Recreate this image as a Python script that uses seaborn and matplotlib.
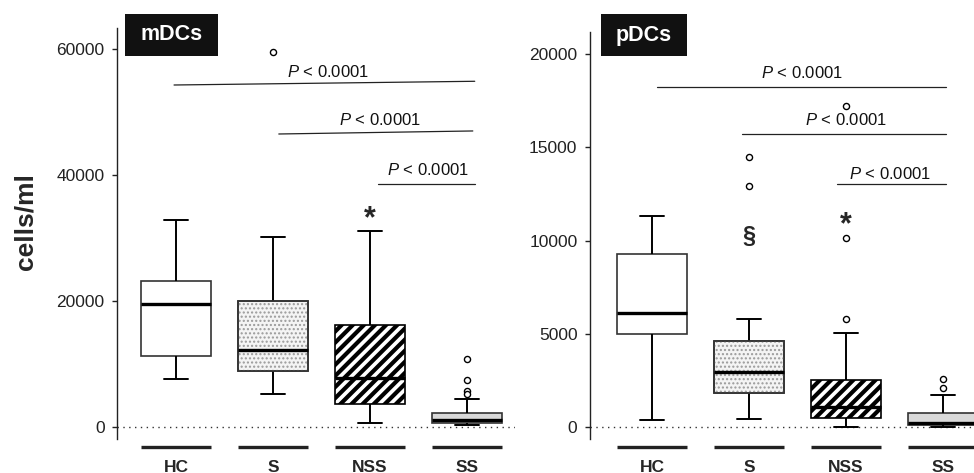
import numpy as np
import pandas as pd
import matplotlib
matplotlib.use("Agg")
import matplotlib.pyplot as plt
import matplotlib.transforms as mtransforms
from matplotlib.patches import PathPatch, Rectangle
import seaborn as sns

# ---------------- data ----------------
groups = ["HC", "S", "NSS", "SS"]

# mDCs (cells/ml): lower whisker, Q1, median, Q3, upper whisker per group
mdc_low = [7570, 5280, 630, 320]
mdc_q1 = [11310, 8830, 3650, 680]
mdc_med = [19560, 12170, 7720, 1110]
mdc_q3 = [23160, 20030, 16130, 2220]
mdc_high = [32830, 30180, 31090, 4390]
mdc_out_group = ["S", "SS", "SS", "SS", "SS"]
mdc_out_value = [59520, 10740, 7450, 5650, 5300]
mdc_yticks = [0, 20000, 40000, 60000]

# pDCs (cells/ml)
pdc_low = [380, 410, 0, 0]
pdc_q1 = [4990, 1820, 470, 90]
pdc_med = [6110, 2970, 1060, 200]
pdc_q3 = [9280, 4630, 2520, 750]
pdc_high = [11310, 5790, 5060, 1720]
pdc_out_group = ["S", "S", "NSS", "NSS", "NSS", "SS", "SS"]
pdc_out_value = [14490, 12920, 17210, 10130, 5790, 2560, 2080]
pdc_yticks = [0, 5000, 10000, 15000, 20000]

p_label = r"$P$ < 0.0001"
y_label = "cells/ml"

# ---------------- style ----------------
sns.set_style("ticks")
plt.rcParams["font.family"] = ["Liberation Sans", "DejaVu Sans"]
plt.rcParams["mathtext.fontset"] = "custom"
plt.rcParams["mathtext.it"] = "Liberation Sans:italic"
plt.rcParams["mathtext.rm"] = "Liberation Sans"

fills = {"HC": "white", "S": "#f4f4f4", "NSS": "white", "SS": "#d9d9d9"}
EDGE = "#333333"


def box_frame(low, q1, med, q3, high):
    rows = []
    for g, a, b, c, d, e in zip(groups, low, q1, med, q3, high):
        for v in (a, b, c, d, e):
            rows.append({"group": g, "value": v})
    return pd.DataFrame(rows)


def draw_panel(ax, df, out_g, out_v, xlim, ylim, yticks):
    sns.boxplot(
        data=df, x="group", y="value", order=groups,
        hue="group", hue_order=groups, palette=fills, legend=False,
        whis=(0, 100), width=0.72, linewidth=1.2, linecolor=EDGE,
        showfliers=False, capwidths=0.25,
        medianprops=dict(color="black", linewidth=2.4),
        whiskerprops=dict(color="black", linewidth=1.4),
        capprops=dict(color="black", linewidth=1.4),
        ax=ax,
    )
    # hatching
    for p in list(ax.patches):
        if not isinstance(p, PathPatch):
            continue
        cx = p.get_path().vertices[:, 0].mean()
        g = groups[int(round(cx))]
        if g == "NSS":
            p.set_edgecolor("black")
            p.set_hatch("///")
            if hasattr(p, "set_hatch_linewidth"):
                p.set_hatch_linewidth(3.0)
        elif g == "S":
            ov = PathPatch(p.get_path(), transform=p.get_transform(),
                           facecolor="none", edgecolor="#9a9a9a", lw=0,
                           hatch="....", zorder=p.get_zorder() + 0.03)
            if hasattr(ov, "set_hatch_linewidth"):
                ov.set_hatch_linewidth(1.0)
            ax.add_patch(ov)
            ed = PathPatch(p.get_path(), transform=p.get_transform(),
                           facecolor="none", edgecolor=EDGE, lw=1.2,
                           zorder=p.get_zorder() + 0.05)
            ax.add_patch(ed)
    # outliers
    sns.stripplot(x=out_g, y=out_v, order=groups, jitter=False,
                  color="white", edgecolor="black", linewidth=1.0,
                  size=4.4, ax=ax, zorder=6)
    ax.axhline(0, color="#333333", lw=1.0, ls=(0, (1, 3.2)), zorder=1.5)
    ax.set_xlim(*xlim)
    ax.set_ylim(*ylim)
    ax.set_yticks(yticks)
    ax.set_xlabel("")
    ax.set_ylabel("")
    for s in ("top", "right", "bottom"):
        ax.spines[s].set_visible(False)
    ax.spines["left"].set_linewidth(1.0)
    ax.spines["left"].set_color("#222222")
    ax.tick_params(axis="y", length=3.8, width=1.0, color="#222222",
                   labelsize=12.5, pad=5.2, labelcolor="#222222")
    ax.tick_params(axis="x", length=0, labelsize=12.5, pad=15)
    for lbl in ax.get_xticklabels():
        lbl.set_fontweight("bold")
    ax.set_facecolor("none")
    # group underlines
    tr = mtransforms.blended_transform_factory(ax.transData, ax.transAxes)
    for i in range(len(groups)):
        ax.plot([i - 0.36, i + 0.36], [-0.0195, -0.0195], color="#222222",
                lw=2.4, transform=tr, clip_on=False, solid_capstyle="butt")


def bracket(ax, x0, x1, y0, y1, tx, ty):
    ax.plot([x0, x1], [y0, y1], color="#222222", lw=0.9, clip_on=False)
    ax.text(tx, ty, p_label, ha="center", va="center", fontsize=12,
            color="#111111")


fig = plt.figure(figsize=(9.74, 4.73), dpi=100)
ax1 = fig.add_axes([117 / 974, 1 - 439 / 473, 398 / 974, 411 / 473])
ax2 = fig.add_axes([590 / 974, 1 - 439 / 473, 384 / 974, 407 / 473])

draw_panel(ax1, box_frame(mdc_low, mdc_q1, mdc_med, mdc_q3, mdc_high),
           mdc_out_group, mdc_out_value, (-0.608, 3.495), (-1903, 63280),
           mdc_yticks)
draw_panel(ax2, box_frame(pdc_low, pdc_q1, pdc_med, pdc_q3, pdc_high),
           pdc_out_group, pdc_out_value, (-0.639, 3.32), (-643, 21180),
           pdc_yticks)

# significance brackets
bracket(ax1, -0.02, 3.08, 54240, 54830, 1.57, 56300)
bracket(ax1, 1.06, 3.06, 46470, 46950, 2.10, 48690)
bracket(ax1, 2.08, 3.08, 38540, 38540, 2.60, 40760)
bracket(ax2, 0.05, 3.03, 18250, 18250, 1.55, 19000)
bracket(ax2, 0.93, 3.03, 15730, 15730, 2.00, 16460)
bracket(ax2, 1.91, 3.03, 13010, 13010, 2.45, 13570)

# symbols
ax1.text(2, 32900, "*", ha="center", va="center", fontsize=22,
         fontweight="bold")
ax2.text(2, 10800, "*", ha="center", va="center", fontsize=22,
         fontweight="bold")
ax2.text(1, 10200, "§", ha="center", va="center", fontsize=17,
         fontweight="bold")

ax1.set_ylabel(y_label, fontsize=19, fontweight="bold")
ax1.yaxis.set_label_coords(-0.229, 0.528)
ax1.yaxis.label.set_va("center")

# panel title boxes
for x0, x1, txt in [(125, 218, "mDCs"), (601, 687, "pDCs")]:
    fig.patches.append(Rectangle((x0 / 974, 1 - 56 / 473), (x1 - x0) / 974,
                                 42 / 473, transform=fig.transFigure,
                                 facecolor="#111111", edgecolor="none",
                                 zorder=10))
    fig.text((x0 + x1) / 2 / 974, 1 - 35 / 473, txt, color="white",
             fontsize=15.5, fontweight="bold", ha="center", va="center",
             zorder=11)

fig.savefig("out.png", dpi=100)
